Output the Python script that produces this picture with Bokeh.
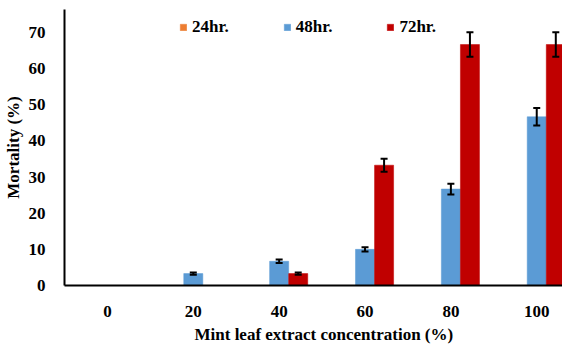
from bokeh.plotting import figure
from bokeh.models import Range1d, FixedTicker, Legend, LegendItem, Whisker, ColumnDataSource, TeeHead, Title
from bokeh.embed import file_html
from bokeh.resources import INLINE

concentrations = ["0", "20", "40", "60", "80", "100"]
mort_24 = [0, 0, 0, 0, 0, 0]
mort_48 = [0, 3.3, 6.7, 10.0, 26.7, 46.7]
mort_72 = [0, 0, 3.3, 33.3, 66.7, 66.7]
err_48 = [0, 0.3, 0.5, 0.6, 1.5, 2.4]
err_72 = [0, 0, 0.3, 1.8, 3.4, 3.4]
series_names = ["24hr.", "48hr.", "72hr."]
colors = ["#ED7D31", "#5B9BD5", "#C00000"]

FONT = "Liberation Serif, serif"
FS = "17px"
idx = list(range(len(concentrations)))
bw = 0.222
offsets = [-bw, 0.0, bw]

p = figure(frame_width=498, frame_height=276, output_backend="svg", toolbar_location=None,
           x_range=Range1d(-0.5, 5.30), y_range=Range1d(0, 76.4),
           min_border_left=55, min_border_right=0, min_border_top=9, min_border_bottom=0)
p.outline_line_color = None
p.grid.grid_line_color = None
p.background_fill_color = "white"

renderers = []
for vals, off, col in zip([mort_24, mort_48, mort_72], offsets, colors):
    xs = [i + off for i in idx]
    r = p.vbar(x=xs, top=vals, bottom=0, width=bw, fill_color=col, line_color=col, line_width=0.5)
    renderers.append(r)

# 24hr zero series shown as dashed line along the baseline
p.line(idx, mort_24, line_color=colors[0], line_dash="2 2", line_width=1)

for vals, errs, off in [(mort_48, err_48, offsets[1]), (mort_72, err_72, offsets[2])]:
    xs = [i + off for i, e in zip(idx, errs) if e > 0]
    up = [v + e for v, e in zip(vals, errs) if e > 0]
    lo = [v - e for v, e in zip(vals, errs) if e > 0]
    src = ColumnDataSource(dict(x=xs, upper=up, lower=lo))
    w = Whisker(source=src, base="x", upper="upper", lower="lower", line_color="black", line_width=2,
                level="overlay",
                upper_head=TeeHead(size=7, line_color="black", line_width=2),
                lower_head=TeeHead(size=7, line_color="black", line_width=2))
    p.add_layout(w)

xa = p.xaxis[0]
xa.ticker = FixedTicker(ticks=idx)
xa.major_label_overrides = {i: c for i, c in zip(idx, concentrations)}
ya = p.yaxis[0]
ya.ticker = FixedTicker(ticks=[0, 10, 20, 30, 40, 50, 60, 70])
for ax in (xa, ya):
    ax.axis_line_color = "black"
    ax.axis_line_width = 2
    ax.major_tick_line_color = None
    ax.minor_tick_line_color = None
    ax.major_label_text_font = FONT
    ax.major_label_text_font_style = "bold"
    ax.major_label_text_font_size = FS
    ax.major_label_text_color = "black"
xa.major_label_standoff = 14
ya.major_label_standoff = 13

ya.axis_label = "Mortality (%)"
ya.axis_label_text_font = FONT
ya.axis_label_text_font_style = "bold"
ya.axis_label_text_font_size = FS
ya.axis_label_text_color = "black"
ya.axis_label_standoff = 3

t = Title(text="Mint leaf extract concentration (%)", align="left", offset=130, standoff=6,
          text_font=FONT, text_font_style="bold", text_font_size=FS, text_color="black")
p.add_layout(t, "below")

legend = Legend(items=[LegendItem(label=n, renderers=[r]) for n, r in zip(series_names, renderers)],
                orientation="horizontal", location=(115, 248), padding=0, margin=0,
                spacing=54, label_standoff=5, glyph_width=8, glyph_height=8,
                border_line_color=None, background_fill_alpha=0,
                label_text_font=FONT, label_text_font_style="bold", label_text_font_size=FS,
                label_text_color="black")
p.add_layout(legend, "center")

open("out.html", "w").write(file_html(p, INLINE))
